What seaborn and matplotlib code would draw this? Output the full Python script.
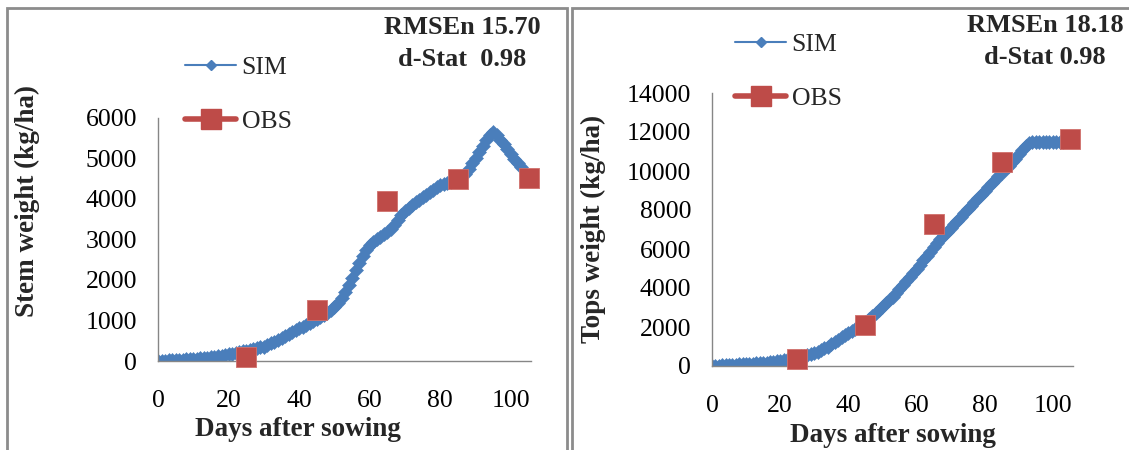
import matplotlib
matplotlib.use("Agg")
import matplotlib.pyplot as plt
from matplotlib.lines import Line2D
from matplotlib.patches import Rectangle
import seaborn as sns
import pandas as pd

# ==================== data ====================
days = list(range(0, 104))

stem_sim = [0, 5, 10, 15, 20, 25, 30, 35, 40, 45,
            55, 60, 65, 75, 85, 95, 105, 120, 135, 150,
            170, 185, 200, 215, 235, 255, 275, 295, 315, 335,
            355, 395, 435, 475, 515, 560, 605, 655, 705, 755,
            805, 850, 895, 940, 985, 1030, 1080, 1130, 1190, 1260,
            1340, 1430, 1550, 1700, 1880, 2060, 2240, 2420, 2600, 2750,
            2860, 2940, 3010, 3070, 3130, 3190, 3260, 3360, 3480, 3600,
            3710, 3790, 3860, 3920, 3980, 4040, 4110, 4170, 4230, 4290,
            4340, 4370, 4400, 4430, 4460, 4490, 4540, 4620, 4740, 4880,
            5020, 5150, 5300, 5450, 5580, 5660, 5570, 5460, 5350, 5230,
            5110, 5000, 4900, 4800]

tops_sim = [0, 10, 20, 30, 40, 50, 60, 70, 80, 90,
            100, 110, 120, 130, 145, 160, 175, 195, 215, 240,
            270, 300, 330, 370, 410, 450, 490, 530, 570, 610,
            650, 730, 810, 900, 1000, 1110, 1230, 1350, 1470, 1580,
            1680, 1800, 1920, 2040, 2150, 2250, 2400, 2550, 2700, 2870,
            3040, 3210, 3380, 3560, 3750, 3950, 4150, 4350, 4560, 4770,
            4980, 5200, 5420, 5640, 5860, 6080, 6300, 6500, 6700, 6890,
            7080, 7270, 7460, 7650, 7840, 8030, 8220, 8410, 8600, 8790,
            8980, 9170, 9360, 9550, 9730, 9910, 10090, 10270, 10450, 10640,
            10850, 11080, 11300, 11430, 11500, 11500, 11500, 11500, 11500, 11500,
            11500, 11500, 11500, 11500]

obs_days = [25, 45, 65, 85, 105]
stem_obs = [110, 1260, 3950, 4500, 4520]
tops_obs = [340, 2100, 7300, 10450, 11650]

stem_stats = ["RMSEn 15.70", "d-Stat  0.98"]
tops_stats = ["RMSEn 18.18", "d-Stat 0.98"]

# ==================== style ====================
sns.set_style("white")
plt.rcParams['font.family'] = ['Liberation Serif', 'DejaVu Serif']

sim_blue = "#4a7ebb"
obs_red = "#be4b48"
axis_grey = "#868686"
W, H = 1129, 450

fig = plt.figure(figsize=(W / 100, H / 100), dpi=100)
fig.patch.set_facecolor("white")

# panel frames
fig.patches.append(Rectangle((7 / W, 1 - 470 / H), 560 / W, 462 / H, transform=fig.transFigure,
                             fill=False, edgecolor="#8c8c8c", lw=2))
fig.patches.append(Rectangle((572 / W, 1 - 470 / H), 580 / W, 462 / H, transform=fig.transFigure,
                             fill=False, edgecolor="#8c8c8c", lw=2))

panels = [
    dict(rect=[158, 118, 531, 361], sim=stem_sim, obs=stem_obs, xmax=105.7, ymax=6000, ystep=1000,
         ylabel="Stem weight (kg/ha)", ylab_pos=(27, 201), xlab_pos=(298, 430),
         stats=stem_stats, stats_pos=[(462, 28), (462, 60)], leg_pos=(185, 56)),
    dict(rect=[712, 93, 1073, 366], sim=tops_sim, obs=tops_obs, xmax=105.9, ymax=14000, ystep=2000,
         ylabel="Tops weight (kg/ha)", ylab_pos=(593, 229), xlab_pos=(893, 436),
         stats=tops_stats, stats_pos=[(1045, 26), (1045, 58)], leg_pos=(735, 33)),
]

for p in panels:
    x0, y0, x1, y1 = p["rect"]
    ax = fig.add_axes([x0 / W, 1 - y1 / H, (x1 - x0) / W, (y1 - y0) / H])
    sim_df = pd.DataFrame({"day": days, "value": p["sim"]})
    obs_df = pd.DataFrame({"day": obs_days, "value": p["obs"]})

    sns.lineplot(data=sim_df, x="day", y="value", ax=ax, color=sim_blue, lw=2,
                 marker="D", markersize=7, markeredgewidth=0.4, markeredgecolor=sim_blue)
    sns.scatterplot(data=obs_df, x="day", y="value", ax=ax, color=obs_red, marker="s",
                    s=210, edgecolor="#d0706c", linewidth=0.6, zorder=5, clip_on=False)

    ax.set_xlim(0, p["xmax"])
    ax.set_ylim(0, p["ymax"])
    ax.set_xticks(range(0, 101, 20))
    ax.set_yticks(range(0, p["ymax"] + 1, p["ystep"]))
    ax.set_xlabel("")
    ax.set_ylabel("")
    for side in ["top", "right"]:
        ax.spines[side].set_visible(False)
    for side in ["left", "bottom"]:
        ax.spines[side].set_color(axis_grey)
        ax.spines[side].set_linewidth(1)
    ax.tick_params(axis="both", direction="out", length=5, width=1, color=axis_grey,
                   labelsize=18.5, labelcolor="black")
    ax.tick_params(axis="y", pad=10)
    ax.tick_params(axis="x", pad=16)
    ax.set_facecolor("white")

    fig.text(p["ylab_pos"][0] / W, 1 - p["ylab_pos"][1] / H, p["ylabel"], rotation=90,
             ha="center", va="center", fontsize=19.5, fontweight="bold")
    fig.text(p["xlab_pos"][0] / W, 1 - p["xlab_pos"][1] / H, "Days after sowing",
             ha="center", va="center", fontsize=19.5, fontweight="bold")
    for line, (tx, ty) in zip(p["stats"], p["stats_pos"]):
        fig.text(tx / W, 1 - ty / H, line, ha="center", va="center",
                 fontsize=19, fontweight="bold")

    handles = [
        Line2D([], [], color=sim_blue, lw=1.5, marker="D", markersize=5),
        Line2D([], [], color=obs_red, lw=4, marker="s", markersize=14),
    ]
    ax.legend(handles, ["SIM", "OBS"], loc="upper left",
              bbox_to_anchor=(p["leg_pos"][0] / W, 1 - p["leg_pos"][1] / H),
              bbox_transform=fig.transFigure, frameon=False, fontsize=18.5,
              handlelength=2.0, handletextpad=0.2, labelspacing=1.2,
              borderpad=0, borderaxespad=0)

fig.savefig("out.png", dpi=100, facecolor="white")
